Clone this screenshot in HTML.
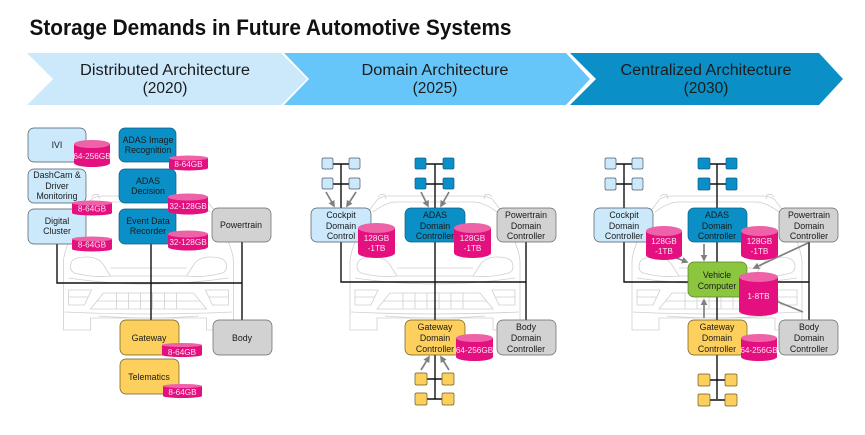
<!DOCTYPE html>
<html><head><meta charset="utf-8"><style>
html,body{margin:0;padding:0;background:#fff;width:865px;height:435px;overflow:hidden}
svg{display:block}
text{font-family:"Liberation Sans",sans-serif;text-anchor:middle}
.t{font-size:8.8px;fill:#1a1a1a}
.w{font-size:8.2px;fill:#fbe3f0}
.h{font-size:15.5px;fill:#1c1c1c}
.lb{fill:#cce9fc;stroke:#4a5a66;stroke-width:.7}
.db{fill:#0a8fc6;stroke:#0b5f86;stroke-width:.7}
.gr{fill:#d2d2d2;stroke:#666;stroke-width:.7}
.ye{fill:#fdd05e;stroke:#6a5a20;stroke-width:.7}
.gn{fill:#8cc63f;stroke:#5a7f28;stroke-width:.7}
.cb{fill:#e5107f}.ct{fill:#ee62a8}
.bus{stroke:#111;stroke-width:1.4;fill:none}
.ar{stroke:#808080;stroke-width:1.7;fill:none;marker-end:url(#m)}
.car{stroke:#cfcfcf;stroke-width:.8;fill:none}
</style></head><body>
<svg width="865" height="435" viewBox="0 0 865 435" xmlns="http://www.w3.org/2000/svg">
<defs>
<marker id="m" markerWidth="4" markerHeight="4" refX="3" refY="2" orient="auto"><path d="M0 0L4 2L0 4Z" fill="#808080"/></marker>
<g id="car" class="car">
<path d="M-67 212L-58 200Q-54 196 -45 196L45 196Q54 196 58 200L67 212"/>
<path d="M-62 212Q-50 203 -40 202L40 202Q50 203 62 212"/>
<path d="M-57 197q3 -4 7 -2l1 4M57 197q-3 -4 -7 -2l-1 4"/>
<path d="M-80 242Q-85 255 -85 262L-85 330L-58 330L-58 318L58 318L58 330L85 330L85 262Q85 255 80 242"/>
<path d="M-77 262Q-80 270 -74 273Q-55 278 -38 276L-45 265Q-50 257 -62 257Q-74 257 -77 262Z"/>
<path d="M77 262Q80 270 74 273Q55 278 38 276L45 265Q50 257 62 257Q74 257 77 262Z"/>
<path d="M-38 268L38 268M-38 276L38 276M-80 278Q0 290 80 278"/>
<path d="M-80 290L-57 290L-64 305L-80 305ZM80 290L57 290L64 305L80 305ZM-80 297L-60 297M80 297L60 297"/>
<path d="M-58 309L-45 293L45 293L58 309ZM-32 293V309M-20 293V309M-8 293V309M4 293V309M16 293V309M28 293V309M-52 301H52"/>
<path d="M-84 312Q0 316 84 312M-50 316Q0 320 50 316"/>
</g>
</defs>

<text x="270.5" y="35" style="font-size:22px;font-weight:bold;fill:#111" textLength="482" lengthAdjust="spacingAndGlyphs">Storage Demands in Future Automotive Systems</text>

<path d="M27 53H281L307 79L281 105H27L53 79Z" fill="#cce9fc"/>
<path d="M284 53H566L590 79L566 105H284L309 79Z" fill="#66c6f9"/>
<path d="M570 53H819L843 79L819 105H570L596 79Z" fill="#0a8fc6"/>
<text class="h" x="165" y="75" textLength="170" lengthAdjust="spacingAndGlyphs">Distributed Architecture</text>
<text class="h" x="165" y="93">(2020)</text>
<text class="h" x="435" y="75" textLength="147" lengthAdjust="spacingAndGlyphs">Domain Architecture</text>
<text class="h" x="435" y="93">(2025)</text>
<text class="h" x="706" y="75" textLength="171" lengthAdjust="spacingAndGlyphs">Centralized Architecture</text>
<text class="h" x="706" y="93">(2030)</text>

<use href="#car" x="148.5"/>
<use href="#car" x="435"/>
<use href="#car" x="717"/>

<!-- left panel -->
<path class="bus" d="M57 244V283H242M151 244V320M242 242V320"/>
<rect class="lb" x="28" y="128" width="58" height="34" rx="6"/>
<rect class="lb" x="28" y="169" width="58" height="34" rx="6"/>
<rect class="lb" x="28" y="209" width="58" height="35" rx="6"/>
<rect class="db" x="119" y="128" width="57" height="34" rx="6"/>
<rect class="db" x="119" y="169" width="57" height="34" rx="6"/>
<rect class="db" x="119" y="209" width="57" height="35" rx="6"/>
<rect class="gr" x="212" y="208" width="59" height="34" rx="6"/>
<rect class="ye" x="120" y="320" width="59" height="35" rx="6"/>
<rect class="ye" x="120" y="359" width="59" height="35" rx="6"/>
<rect class="gr" x="213" y="320" width="59" height="35" rx="6"/>
<text class="t" x="57" y="148">IVI</text>
<text class="t" x="57" y="178">DashCam &amp;</text>
<text class="t" x="57" y="189">Driver</text>
<text class="t" x="57" y="199">Monitoring</text>
<text class="t" x="57" y="224">Digital</text>
<text class="t" x="57" y="234">Cluster</text>
<text class="t" x="148" y="143">ADAS Image</text>
<text class="t" x="148" y="153">Recognition</text>
<text class="t" x="148" y="184">ADAS</text>
<text class="t" x="148" y="194">Decision</text>
<text class="t" x="148" y="224">Event Data</text>
<text class="t" x="148" y="234">Recorder</text>
<text class="t" x="241" y="228">Powertrain</text>
<text class="t" x="149" y="341">Gateway</text>
<text class="t" x="149" y="380">Telematics</text>
<text class="t" x="242" y="341">Body</text>

<path class="cb" d="M74 144V163A18 4 0 0 0 110 163V144Z"/><ellipse class="ct" cx="92" cy="144" rx="18" ry="4"/>
<text class="w" x="92" y="159">64-256GB</text>
<path class="cb" d="M169 158V168A19.5 2.5 0 0 0 208 168V158Z"/><ellipse class="ct" cx="188.500" cy="158" rx="19.500" ry="2.500"/>
<text class="w" x="188.500" y="167">8-64GB</text>
<path class="cb" d="M168 197V211A20 3.500 0 0 0 208 211V197Z"/><ellipse class="ct" cx="188" cy="197" rx="20" ry="3.500"/>
<text class="w" x="188" y="209">32-128GB</text>
<path class="cb" d="M168 234V247A20 3.500 0 0 0 208 247V234Z"/><ellipse class="ct" cx="188" cy="234" rx="20" ry="3.500"/>
<text class="w" x="188" y="245">32-128GB</text>
<path class="cb" d="M72 203V213A20 2.500 0 0 0 112 213V203Z"/><ellipse class="ct" cx="92" cy="203" rx="20" ry="2.500"/>
<text class="w" x="92" y="211.500">8-64GB</text>
<path class="cb" d="M72 239V249A20 2.500 0 0 0 112 249V239Z"/><ellipse class="ct" cx="92" cy="239" rx="20" ry="2.500"/>
<text class="w" x="92" y="247.500">8-64GB</text>
<path class="cb" d="M162 345V355A20 2 0 0 0 202 355V345Z"/><ellipse class="ct" cx="182" cy="345" rx="20" ry="2"/>
<text class="w" x="182" y="355">8-64GB</text>
<path class="cb" d="M163 386V396A19.500 2 0 0 0 202 396V386Z"/><ellipse class="ct" cx="182.500" cy="386" rx="19.500" ry="2"/>
<text class="w" x="182.500" y="395">8-64GB</text>

<!-- middle panel -->
<path class="bus" d="M341 164V208M333 164H349M333 184H349M435 164V208M426 164H443M426 184H443"/>
<path class="bus" d="M341 242V282H526M435 242V320M526 242V320M435 355V399M427 379H442M427 399H442"/>
<rect class="lb" x="322" y="158" width="11" height="11" rx="1.500"/><rect class="lb" x="349" y="158" width="11" height="11" rx="1.500"/>
<rect class="lb" x="322" y="178" width="11" height="11" rx="1.500"/><rect class="lb" x="349" y="178" width="11" height="11" rx="1.500"/>
<rect class="db" x="415" y="158" width="11" height="11" rx="1.500"/><rect class="db" x="443" y="158" width="11" height="11" rx="1.500"/>
<rect class="db" x="415" y="178" width="11" height="11" rx="1.500"/><rect class="db" x="443" y="178" width="11" height="11" rx="1.500"/>
<rect class="ye" x="415" y="373" width="12" height="12" rx="1.500"/><rect class="ye" x="442" y="373" width="12" height="12" rx="1.500"/>
<rect class="ye" x="415" y="393" width="12" height="12" rx="1.500"/><rect class="ye" x="442" y="393" width="12" height="12" rx="1.500"/>
<path class="ar" d="M326 192L334 206"/><path class="ar" d="M356 192L347 206"/>
<path class="ar" d="M421 192L428 206"/><path class="ar" d="M449 192L441 206"/>
<path class="ar" d="M421 370L429 357"/><path class="ar" d="M449 370L441 357"/>
<rect class="lb" x="311" y="208" width="60" height="34" rx="6"/>
<rect class="db" x="405" y="208" width="60" height="34" rx="6"/>
<rect class="gr" x="497" y="208" width="59" height="34" rx="6"/>
<rect class="ye" x="405" y="320" width="60" height="35" rx="6"/>
<rect class="gr" x="497" y="320" width="59" height="35" rx="6"/>
<text class="t" x="341" y="218">Cockpit</text><text class="t" x="341" y="229">Domain</text><text class="t" x="341" y="239">Control</text>
<text class="t" x="435" y="218">ADAS</text><text class="t" x="435" y="229">Domain</text><text class="t" x="435" y="239">Controller</text>
<text class="t" x="526" y="218">Powertrain</text><text class="t" x="526" y="229">Domain</text><text class="t" x="526" y="239">Controller</text>
<text class="t" x="435" y="330">Gateway</text><text class="t" x="435" y="341">Domain</text><text class="t" x="435" y="352">Controller</text>
<text class="t" x="526" y="330">Body</text><text class="t" x="526" y="341">Domain</text><text class="t" x="526" y="352">Controller</text>
<path class="cb" d="M358 228V253A18.500 5 0 0 0 395 253V228Z"/><ellipse class="ct" cx="376.500" cy="228" rx="18.500" ry="5"/>
<text class="w" x="376.500" y="241">128GB</text><text class="w" x="376.500" y="251">-1TB</text>
<path class="cb" d="M454 228V253A18.500 5 0 0 0 491 253V228Z"/><ellipse class="ct" cx="472.500" cy="228" rx="18.500" ry="5"/>
<text class="w" x="472.500" y="241">128GB</text><text class="w" x="472.500" y="251">-1TB</text>
<path class="cb" d="M456 338V357A18.500 4 0 0 0 493 357V338Z"/><ellipse class="ct" cx="474.500" cy="338" rx="18.500" ry="4"/>
<text class="w" x="474.500" y="353">64-256GB</text>

<!-- right panel -->
<path class="bus" d="M624 164V208M616 164H632M616 184H632M717 164V208M710 164H726M710 184H726"/>
<path class="bus" d="M624 242V282H809M717 242V320M809 242V320M717 355V399M710 380H725M710 400H725"/>
<rect class="lb" x="605" y="158" width="11" height="11" rx="1.500"/><rect class="lb" x="632" y="158" width="11" height="11" rx="1.500"/>
<rect class="lb" x="605" y="178" width="11" height="12" rx="1.500"/><rect class="lb" x="632" y="178" width="11" height="12" rx="1.500"/>
<rect class="db" x="698" y="158" width="12" height="11" rx="1.500"/><rect class="db" x="726" y="158" width="11" height="11" rx="1.500"/>
<rect class="db" x="698" y="178" width="12" height="12" rx="1.500"/><rect class="db" x="726" y="178" width="11" height="12" rx="1.500"/>
<rect class="ye" x="698" y="374" width="12" height="12" rx="1.500"/><rect class="ye" x="725" y="374" width="12" height="12" rx="1.500"/>
<rect class="ye" x="698" y="394" width="12" height="12" rx="1.500"/><rect class="ye" x="725" y="394" width="12" height="12" rx="1.500"/>
<path class="ar" d="M671 256L687 262"/><path class="ar" d="M704 244V260"/><path class="ar" d="M808 243L754 268"/>
<path class="ar" d="M704 318V300"/><path d="M803 312L776 301" stroke="#808080" stroke-width="1.700" fill="none"/>
<rect class="lb" x="594" y="208" width="59" height="34" rx="6"/>
<rect class="db" x="688" y="208" width="59" height="34" rx="6"/>
<rect class="gr" x="779" y="208" width="59" height="34" rx="6"/>
<rect class="gn" x="688" y="262" width="59" height="35" rx="6"/>
<rect class="ye" x="688" y="320" width="59" height="35" rx="6"/>
<rect class="gr" x="779" y="320" width="59" height="35" rx="6"/>
<text class="t" x="624" y="218">Cockpit</text><text class="t" x="624" y="229">Domain</text><text class="t" x="624" y="239">Controller</text>
<text class="t" x="717" y="218">ADAS</text><text class="t" x="717" y="229">Domain</text><text class="t" x="717" y="239">Controller</text>
<text class="t" x="809" y="218">Powertrain</text><text class="t" x="809" y="229">Domain</text><text class="t" x="809" y="239">Controller</text>
<text class="t" x="717" y="278">Vehicle</text><text class="t" x="717" y="289">Computer</text>
<text class="t" x="717" y="330">Gateway</text><text class="t" x="717" y="341">Domain</text><text class="t" x="717" y="352">Controller</text>
<text class="t" x="809" y="330">Body</text><text class="t" x="809" y="341">Domain</text><text class="t" x="809" y="352">Controller</text>
<path class="cb" d="M646 231V255A18 5 0 0 0 682 255V231Z"/><ellipse class="ct" cx="664" cy="231" rx="18" ry="5"/>
<text class="w" x="664" y="244">128GB</text><text class="w" x="664" y="254">-1TB</text>
<path class="cb" d="M741 231V255A18.500 5 0 0 0 778 255V231Z"/><ellipse class="ct" cx="759.500" cy="231" rx="18.500" ry="5"/>
<text class="w" x="759.500" y="244">128GB</text><text class="w" x="759.500" y="254">-1TB</text>
<path class="cb" d="M739 277V311A19.500 5 0 0 0 778 311V277Z"/><ellipse class="ct" cx="758.500" cy="277" rx="19.500" ry="5"/>
<text class="w" x="758.500" y="299">1-8TB</text>
<path class="cb" d="M741 338V357A18 4 0 0 0 777 357V338Z"/><ellipse class="ct" cx="759" cy="338" rx="18" ry="4"/>
<text class="w" x="759" y="353">64-256GB</text>
</svg>
</body></html>
